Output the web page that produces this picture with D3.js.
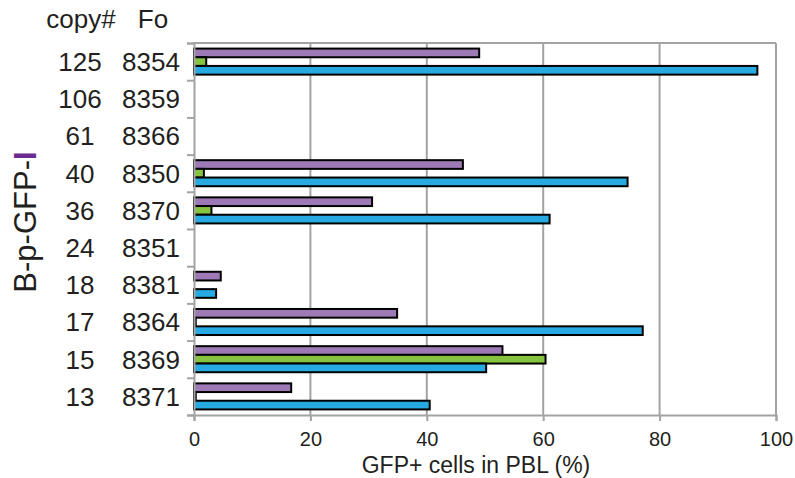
<!DOCTYPE html>
<html>
<head>
<meta charset="utf-8">
<script src="https://cdn.jsdelivr.net/npm/d3@7"></script>
<style>
    body { margin: 0; background: #fff; }
    svg text { font-family: "Liberation Sans", Arial, sans-serif; fill: #231f20; }
</style>
</head>
<body>
<svg id="chart" width="795" height="478"></svg>
<script>
    'use strict';

    // rows, top to bottom
    var copyNumbers = ['125', '106', '61', '40', '36', '24', '18', '17', '15', '13'],
        founders = ['8354', '8359', '8366', '8350', '8370', '8351', '8381', '8364', '8369', '8371'],
        purpleVals = [49.0, null, null, 46.2, 30.6, null, 4.6, 34.9, 53.0, 16.7],
        greenVals = [2.1, null, null, 1.7, 3.0, null, null, 0.3, 60.4, 0.3],
        blueVals = [96.8, null, null, 74.5, 61.1, null, 3.8, 77.1, 50.2, 40.5],
        xTicks = [0, 20, 40, 60, 80, 100];

    var series = [
        { key: 'purple', values: purpleVals, color: '#9d79b6' },
        { key: 'green', values: greenVals, color: '#86c440' },
        { key: 'blue', values: blueVals, color: '#27a9e1' }
    ];

    var margin = { left: 194, right: 19, top: 43, bottom: 63 },
        svg = d3.select('#chart'),
        width = +svg.attr('width') - margin.left - margin.right,
        height = +svg.attr('height') - margin.top - margin.bottom,
        axisColor = '#a3a3a3',
        labelSize = '26px';

    var x = d3.scaleLinear().domain([0, 100]).range([0, width]),
        y = d3.scaleBand().domain(founders).range([0, height]),
        rowIdx = d3.scaleLinear().domain([0, founders.length]).range([0, height]),
        inner = d3.scaleBand()
            .domain(series.map(function (s) { return s.key; }))
            .range([y.bandwidth() * 0.15, y.bandwidth() * 0.85]);

    var g = svg.append('g')
        .attr('transform', 'translate(' + margin.left + ',' + margin.top + ')');

    // vertical gridlines
    g.selectAll('line.grid')
        .data(xTicks.slice(1))
        .enter()
        .append('line')
        .attr('class', 'grid')
        .attr('x1', x).attr('x2', x)
        .attr('y1', 0).attr('y2', height)
        .attr('stroke', axisColor)
        .attr('stroke-width', 2);

    // top border
    g.append('line')
        .attr('x1', 0).attr('x2', width)
        .attr('y1', 0).attr('y2', 0)
        .attr('stroke', axisColor)
        .attr('stroke-width', 2);

    // bars
    var rows = g.selectAll('g.row')
        .data(founders)
        .enter()
        .append('g')
        .attr('class', 'row')
        .attr('transform', function (d) { return 'translate(0,' + y(d) + ')'; });

    rows.selectAll('rect')
        .data(function (d, i) {
            return series.map(function (s) {
                return { key: s.key, value: s.values[i], color: s.color };
            }).filter(function (b) { return b.value !== null; });
        })
        .enter()
        .append('rect')
        .attr('x', 0)
        .attr('y', function (d) { return inner(d.key); })
        .attr('width', function (d) { return x(d.value); })
        .attr('height', inner.bandwidth())
        .attr('fill', function (d) { return d.color; })
        .attr('stroke', '#000')
        .attr('stroke-width', 2);

    // x axis
    var xAxis = g.append('g')
        .attr('transform', 'translate(0,' + height + ')')
        .call(d3.axisBottom(x).tickValues(xTicks).tickSize(6).tickPadding(11));

    xAxis.select('.domain').attr('stroke', axisColor).attr('stroke-width', 2);
    xAxis.selectAll('.tick line').attr('stroke', axisColor).attr('stroke-width', 2);
    xAxis.selectAll('.tick text')
        .style('font-family', '"Liberation Sans", Arial, sans-serif')
        .style('font-size', '20px')
        .attr('fill', '#231f20');

    // y axis with ticks on row boundaries
    var yAxis = g.append('g')
        .call(d3.axisLeft(rowIdx).tickValues(d3.range(founders.length + 1)).tickSize(7).tickFormat(''));

    yAxis.select('.domain').attr('stroke', axisColor).attr('stroke-width', 2);
    yAxis.selectAll('.tick line').attr('stroke', axisColor).attr('stroke-width', 2);

    // row labels
    var labels = svg.append('g')
        .attr('transform', 'translate(0,' + margin.top + ')')
        .style('font-size', labelSize)
        .attr('text-anchor', 'middle');

    labels.selectAll('text.copy')
        .data(copyNumbers)
        .enter()
        .append('text')
        .attr('class', 'copy')
        .attr('x', 80)
        .attr('y', function (d, i) { return y(founders[i]) + y.bandwidth() / 2; })
        .attr('dy', '0.36em')
        .text(function (d) { return d; });

    labels.selectAll('text.fo')
        .data(founders)
        .enter()
        .append('text')
        .attr('class', 'fo')
        .attr('x', 151)
        .attr('y', function (d) { return y(d) + y.bandwidth() / 2; })
        .attr('dy', '0.36em')
        .text(function (d) { return d; });

    // column headers
    svg.append('text')
        .attr('x', 81).attr('y', 28)
        .attr('text-anchor', 'middle')
        .style('font-size', labelSize)
        .text('copy#');

    svg.append('text')
        .attr('x', 153).attr('y', 28)
        .attr('text-anchor', 'middle')
        .style('font-size', labelSize)
        .text('Fo');

    // axis titles
    svg.append('text')
        .attr('x', 476)
        .attr('y', 473)
        .attr('text-anchor', 'middle')
        .style('font-size', '23px')
        .text('GFP+ cells in PBL (%)');

    var yTitle = svg.append('text')
        .attr('transform', 'translate(36,222) rotate(-90)')
        .attr('text-anchor', 'middle')
        .style('font-size', '31px');

    yTitle.append('tspan').text('B-p-GFP-');
    yTitle.append('tspan')
        .style('fill', '#6a2c91')
        .style('font-weight', 'bold')
        .text('I');
</script>
</body>
</html>
